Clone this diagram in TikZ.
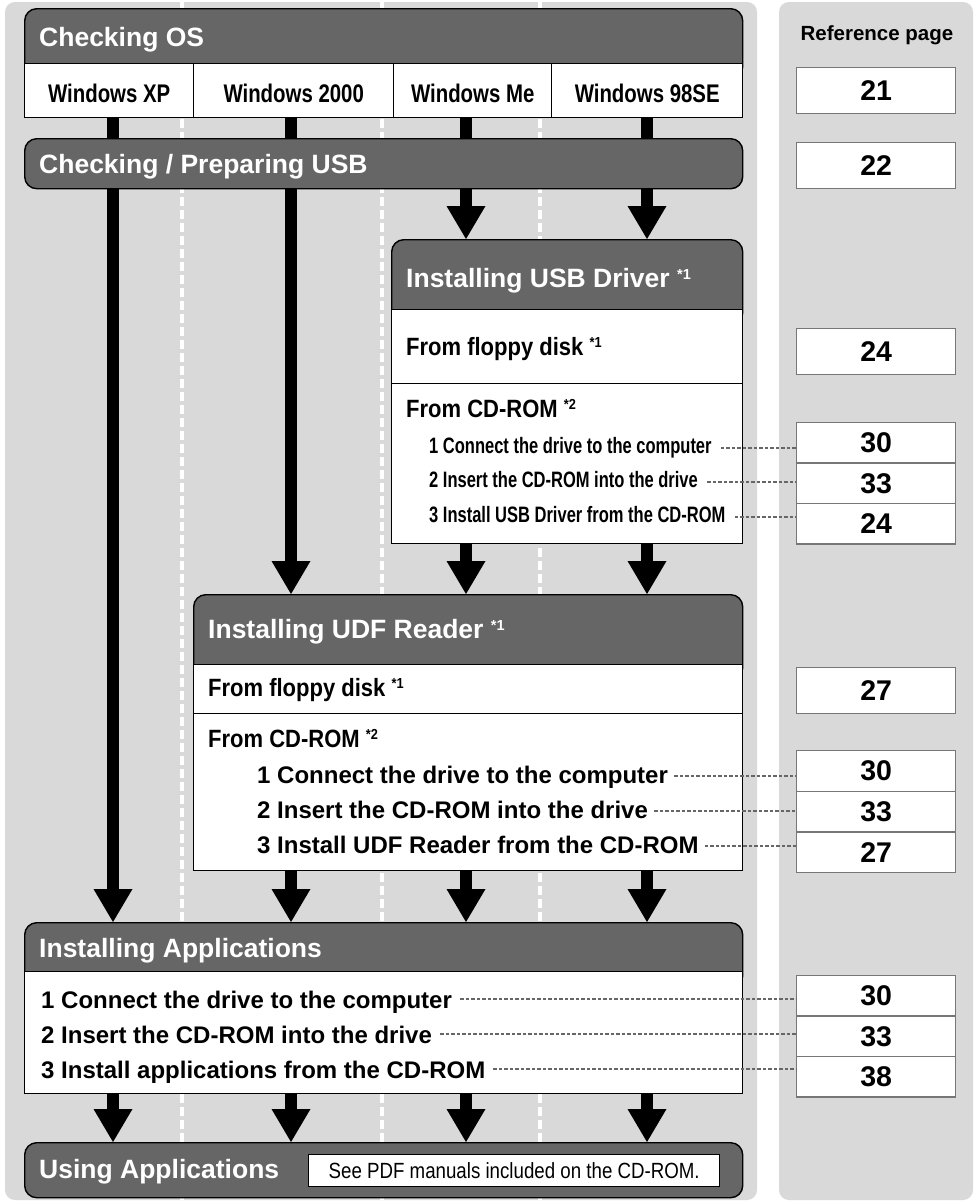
\documentclass[tikz,border=0pt]{standalone}
\usepackage{fontspec}
\setmainfont{Liberation Sans}
\newfontfamily\narrowfont[FakeStretch=0.80]{Liberation Sans}
\newfontfamily\semifont[FakeStretch=0.88]{Liberation Sans}
\newfontfamily\tightfont[FakeStretch=0.74]{Liberation Sans}
\newfontfamily\seefont[FakeStretch=0.85]{Liberation Sans}
\usepackage{tikz}
\usetikzlibrary{arrows.meta,calc,positioning}
\definecolor{panelgray}{HTML}{D9D9D9}
\definecolor{headgray}{HTML}{666666}
\definecolor{refgray}{HTML}{777777}
\newcommand{\fnmark}[1]{{\fontsize{14.5}{14.5}\selectfont\raisebox{7.5pt}{#1}}}
\tikzset{
panel/.style={fill=panelgray, rounded corners=10pt},
col sep line/.style={draw=white, line width=4.5pt, dash pattern=on 9pt off 4pt},
head box/.style={draw=black, fill=headgray, line width=1.4pt, rounded corners=12pt, anchor=north west, inner sep=0pt},
body box/.style={draw=black, fill=white, line width=1.4pt, anchor=north west, inner sep=0pt},
head text/.style={anchor=base west, inner sep=0pt, text=white, font=\bfseries\fontsize{26.5}{30}\selectfont},
os cell/.style={body box, text height=24pt, text depth=0pt, font=\narrowfont\bfseries\fontsize{25.5}{28}\selectfont},
way text/.style={anchor=base west, inner sep=0pt, font=\semifont\bfseries\fontsize{25}{28}\selectfont},
usb item/.style={anchor=base west, inner sep=0pt, font=\tightfont\bfseries\fontsize{22.3}{26}\selectfont},
list item/.style={anchor=base west, inner sep=0pt, font=\bfseries\fontsize{24}{28}\selectfont},
flow bar/.style={draw=black, line width=12.5pt},
flow arrow/.style={flow bar, -{Triangle[length=33pt,width=39pt,line width=0pt]}},
ref title/.style={anchor=base, inner sep=0pt, font=\bfseries\fontsize{20.5}{24}\selectfont},
ref box/.style={draw=refgray, fill=white, line width=1.4pt, anchor=north west, inner sep=0pt, minimum width=159pt, font=\bfseries\fontsize{28.5}{32}\selectfont},
ref line/.style={draw=headgray, line width=1.6pt, dash pattern=on 3.5pt off 2pt},
note box/.style={body box, font=\seefont\fontsize{22}{26}\selectfont}
}

\begin{document}
\begin{tikzpicture}[x=1pt,y=-1pt]
\useasboundingbox (0,0) rectangle (975,1202);
\fill[white] (0,0) rectangle (975,1202);
\fill[panel] (5,2) rectangle (757,1200);
\fill[panel] (779,2) rectangle (973,1200);
\foreach \x in {182,382,540}
  \draw[col sep line] (\x,2) -- (\x,1200);

\coordinate (colXP) at (113,0);
\coordinate (col2000) at (291,0);
\coordinate (colMe) at (466,0);
\coordinate (col98) at (647,0);

\node[head box, minimum width=718pt, minimum height=70pt] (oshead) at (24,8) {};
\node[head text] (ostitle) at (39,46) {Checking OS};
\foreach \n/\x/\w/\t in {os1/24/169/Windows XP, os2/193/200/Windows 2000, os3/393/158/Windows Me, os4/551/191/Windows 98SE}
  \node[os cell, minimum width=\w pt, minimum height=54pt] (\n) at (\x,63) {\t};

\node[head box, minimum width=718pt, minimum height=50pt] (cpusb) at (24,138) {};
\node[head text] (cputitle) at (39,173) {Checking / Preparing USB};

\node[head box, minimum width=351pt, minimum height=85pt] (usbhead) at (391,239) {};
\node[body box, minimum width=351pt, minimum height=74pt] (usbflop) at (391,309) {};
\node[body box, minimum width=351pt, minimum height=160pt] (usbcd) at (391,383) {};
\node[head text] (usbtitle) at (406,287) {Installing USB Driver \fnmark{*1}};
\node[way text] (usbfloptext) at (406,355) {From floppy disk \fnmark{*1}};
\node[way text] (usbcdtext) at (406,417) {From CD-ROM \fnmark{*2}};

\node[head box, minimum width=549pt, minimum height=85pt] (udfhead) at (193,594) {};
\node[body box, minimum width=549pt, minimum height=49pt] (udfflop) at (193,664) {};
\node[body box, minimum width=549pt, minimum height=157pt] (udfcd) at (193,713) {};
\node[head text] (udftitle) at (208,638) {Installing UDF Reader \fnmark{*1}};
\node[way text] (udffloptext) at (208,696) {From floppy disk \fnmark{*1}};
\node[way text] (udfcdtext) at (208,747) {From CD-ROM \fnmark{*2}};

\node[head box, minimum width=718pt, minimum height=65pt] (iahead) at (24,922) {};
\node[body box, minimum width=718pt, minimum height=122pt] (iabody) at (24,971) {};
\node[head text] (iatitle) at (39,957) {Installing Applications};

\node[head box, minimum width=718pt, minimum height=55pt] (uahead) at (24,1142) {};
\node[head text] (uatitle) at (39,1178) {Using Applications};
\node[note box, minimum width=411pt, minimum height=32pt] (seepdf) at (308,1154) {See PDF manuals included on the CD-ROM.};

\foreach \c in {colXP,col2000,colMe,col98}
  \draw[flow bar] (\c |- os1.south) -- (\c |- cpusb.north);
\draw[flow arrow] (colXP |- cpusb.south) -- (colXP |- iahead.north);
\draw[flow arrow] (col2000 |- cpusb.south) -- (col2000 |- udfhead.north);
\foreach \c in {colMe,col98} {
  \draw[flow arrow] (\c |- cpusb.south) -- (\c |- usbhead.north);
  \draw[flow arrow] (\c |- usbcd.south) -- (\c |- udfhead.north);
}
\foreach \c in {col2000,colMe,col98}
  \draw[flow arrow] (\c |- udfcd.south) -- (\c |- iahead.north);
\foreach \c in {colXP,col2000,colMe,col98}
  \draw[flow arrow] (\c |- iabody.south) -- (\c |- uahead.north);

\node[ref title] (reftitle) at (877,40) {Reference page};
\node[ref box, minimum height=46pt] (r21) at (796,67) {21};
\node[ref box, minimum height=46pt] (r22) at (796,142) {22};
\node[ref box, minimum height=46pt] (r24) at (796,328) {24};
\node[ref box, minimum height=46pt] (r27) at (796,667) {27};
\foreach \n/\y/\t in {ua/422/30, ub/462.3/33, uc/502.7/24, da/750/30, db/790.7/33, dc/831.3/27, aa/975/30, ab/1015.3/33, ac/1055.7/38}
  \node[ref box, minimum height=40.5pt] (r\n) at (796,\y) {\t};

\foreach \n/\y/\t/\r in {u1/453/1 Connect the drive to the computer/rua, u2/487/2 Insert the CD-ROM into the drive/rub, u3/522/3 Install USB Driver from the CD-ROM/ruc} {
  \node[usb item] (\n) at (429,\y) {\t};
  \coordinate (d\n) at ([shift={(9,-5)}]\n.base east);
  \draw[ref line] (d\n) -- (d\n -| \r.west);
}
\foreach \n/\y/\t/\r in {f1/783/1 Connect the drive to the computer/rda, f2/818/2 Insert the CD-ROM into the drive/rdb, f3/853/3 Install UDF Reader from the CD-ROM/rdc} {
  \node[list item] (\n) at (257,\y) {\t};
  \coordinate (d\n) at ([shift={(6,-7)}]\n.base east);
  \draw[ref line] (d\n) -- (d\n -| \r.west);
}
\foreach \n/\y/\t/\r in {a1/1008/1 Connect the drive to the computer/raa, a2/1043/2 Insert the CD-ROM into the drive/rab, a3/1078/3 Install applications from the CD-ROM/rac} {
  \node[list item] (\n) at (41,\y) {\t};
  \coordinate (d\n) at ([shift={(8,-9)}]\n.base east);
  \draw[ref line] (d\n) -- (d\n -| \r.west);
}
\end{tikzpicture}
\end{document}
